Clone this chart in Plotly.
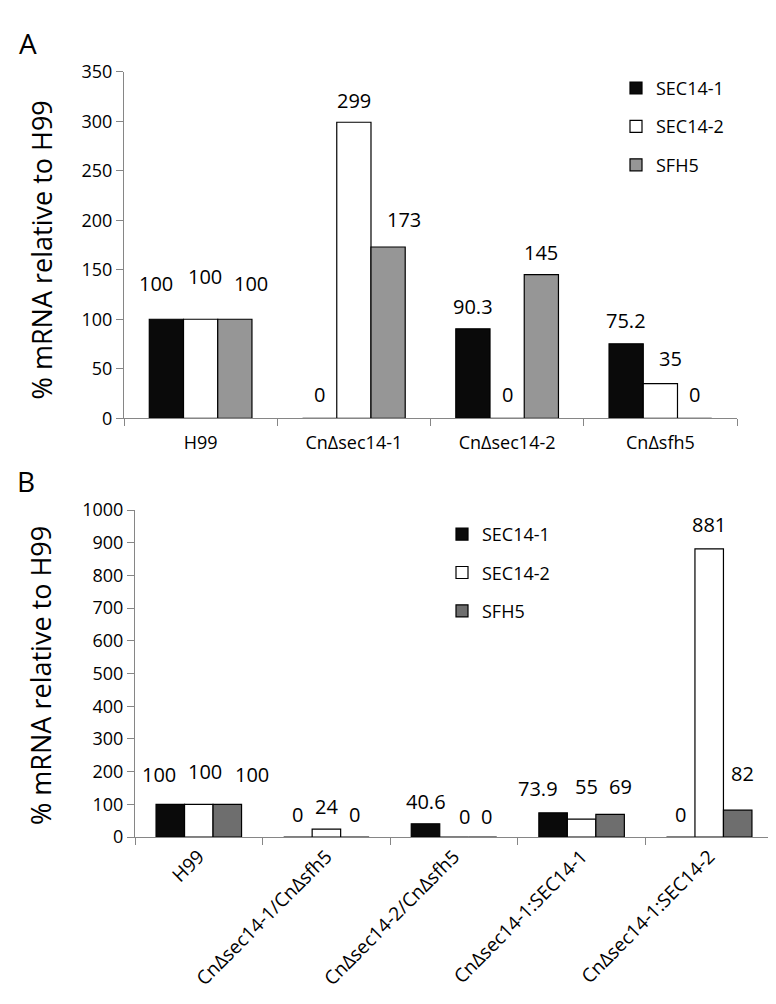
import plotly.graph_objects as go

# ---------------- data ----------------
series_names = ["SEC14-1", "SEC14-2", "SFH5"]

cats_a = ["H99", "CnΔsec14-1", "CnΔsec14-2", "CnΔsfh5"]
sec14_1_a = [100, 0, 90.3, 75.2]
sec14_2_a = [100, 299, 0, 35]
sfh5_a = [100, 173, 145, 0]
labels_a = [["100", "0", "90.3", "75.2"],
            ["100", "299", "0", "35"],
            ["100", "173", "145", "0"]]

cats_b = ["H99", "CnΔsec14-1/CnΔsfh5", "CnΔsec14-2/CnΔsfh5",
          "CnΔsec14-1:SEC14-1", "CnΔsec14-1:SEC14-2"]
sec14_1_b = [100, 0, 40.6, 73.9, 0]
sec14_2_b = [100, 24, 0, 55, 881]
sfh5_b = [100, 0, 0, 69, 82]
labels_b = [["100", "0", "40.6", "73.9", "0"],
            ["100", "24", "0", "55", "881"],
            ["100", "0", "0", "69", "82"]]

# ---------------- styles ----------------
colors_a = ["#0a0a0a", "#ffffff", "#969696"]
colors_b = ["#0a0a0a", "#ffffff", "#6e6e6e"]
# pixel offsets of the value labels relative to each bar top (as placed in the original)
label_yshift_a = [[36, 24, 22, 23], [43, 22, 24, 25], [36, 27, 22, 24]]
label_xshift_a = [[-10, 0, 0, 0], [4, 0, 0, 10], [16, 16, 0, 0]]
label_yshift_b = [[30, 23, 22, 24, 23], [33, 23, 21, 33, 24], [30, 23, 21, 28, 37]]
label_xshift_b = [[-11, 0, 0, -15, 0], [6, 0, 10, 5, 0], [25, 0, 4, 10, 5]]

FONT = "Open Sans"
W, H = 776, 1004
BARGAP = 0.33
AXC = "#868686"

fig = go.Figure()

vals_a = [sec14_1_a, sec14_2_a, sfh5_a]
vals_b = [sec14_1_b, sec14_2_b, sfh5_b]

for k, name in enumerate(series_names):
    fig.add_trace(go.Bar(
        x=cats_a, y=vals_a[k], name=name, xaxis="x", yaxis="y",
        marker=dict(color=colors_a[k], line=dict(color="#000000", width=1.2)),
        legend="legend", legendgroup="a" + name, hoverinfo="x+y"))
for k, name in enumerate(series_names):
    fig.add_trace(go.Bar(
        x=cats_b, y=vals_b[k], name=name, xaxis="x2", yaxis="y2",
        marker=dict(color=colors_b[k], line=dict(color="#000000", width=1.2)),
        legend="legend2", legendgroup="b" + name, hoverinfo="x+y"))

bw = (1 - BARGAP) / 3
annotations = []
for k in range(3):
    for i in range(len(cats_a)):
        annotations.append(dict(
            x=i + (k - 1) * bw, y=vals_a[k][i], xref="x", yref="y",
            text=labels_a[k][i], showarrow=False, yanchor="middle",
            xshift=label_xshift_a[k][i], yshift=label_yshift_a[k][i],
            font=dict(family=FONT, size=20, color="#000000")))
    for i in range(len(cats_b)):
        annotations.append(dict(
            x=i + (k - 1) * bw, y=vals_b[k][i], xref="x2", yref="y2",
            text=labels_b[k][i], showarrow=False, yanchor="middle",
            xshift=label_xshift_b[k][i], yshift=label_yshift_b[k][i],
            font=dict(family=FONT, size=20, color="#000000")))

# panel letters
annotations.append(dict(x=20 / W, y=1 - 23 / H, xref="paper", yref="paper",
                        text="A", showarrow=False, xanchor="center", yanchor="middle",
                        font=dict(family=FONT, size=28, color="#000000")))
annotations.append(dict(x=18 / W, y=1 - 471 / H, xref="paper", yref="paper",
                        text="B", showarrow=False, xanchor="center", yanchor="middle",
                        font=dict(family=FONT, size=28, color="#000000")))
# y-axis titles
for yc in (235, 671):
    annotations.append(dict(x=33 / W, y=1 - yc / H, xref="paper", yref="paper",
                            text="% mRNA relative to H99", showarrow=False,
                            textangle=-90, xanchor="center", yanchor="middle",
                            font=dict(family=FONT, size=27, color="#000000")))

xa = dict(type="category", tickson="boundaries", ticks="outside", ticklen=7,
          tickcolor=AXC, tickwidth=1, showline=True, linecolor=AXC, linewidth=1,
          showgrid=False, zeroline=False, fixedrange=True,
          tickfont=dict(family=FONT, size=18, color="#000000"))
ya = dict(ticks="outside", ticklen=7, tickcolor=AXC, tickwidth=1, showline=True,
          linecolor=AXC, linewidth=1, showgrid=False, zeroline=False,
          fixedrange=True, tickfont=dict(family=FONT, size=18, color="#000000"))

fig.update_layout(
    width=W, height=H, margin=dict(l=0, r=0, t=0, b=0),
    paper_bgcolor="white", plot_bgcolor="white",
    barmode="group", bargap=BARGAP, bargroupgap=0,
    font=dict(family=FONT, color="#000000"),
    xaxis=dict(xa, domain=[116 / W, 729 / W], anchor="y", ticklabelstandoff=8),
    yaxis=dict(ya, domain=[1 - 407 / H, 1 - 52 / H], anchor="x",
               range=[0, 350], dtick=50, tick0=0),
    xaxis2=dict(xa, domain=[127 / W, 765 / W], anchor="y2", tickangle=-45,
                tickfont=dict(family=FONT, size=19, color="#000000")),
    yaxis2=dict(ya, domain=[1 - 836 / H, 1 - 501 / H], anchor="x2",
                range=[0, 1000], dtick=100, tick0=0),
    legend=dict(x=608 / W, y=1 - 50 / H, xanchor="left", yanchor="top",
                font=dict(family=FONT, size=18, color="#000000"),
                bgcolor="rgba(0,0,0,0)", tracegroupgap=12, traceorder="grouped"),
    legend2=dict(x=434 / W, y=1 - 507 / H, xanchor="left", yanchor="top",
                 font=dict(family=FONT, size=18, color="#000000"),
                 bgcolor="rgba(0,0,0,0)", tracegroupgap=12, traceorder="grouped"),
    annotations=annotations,
    showlegend=True,
)

fig.write_html("out.html")
